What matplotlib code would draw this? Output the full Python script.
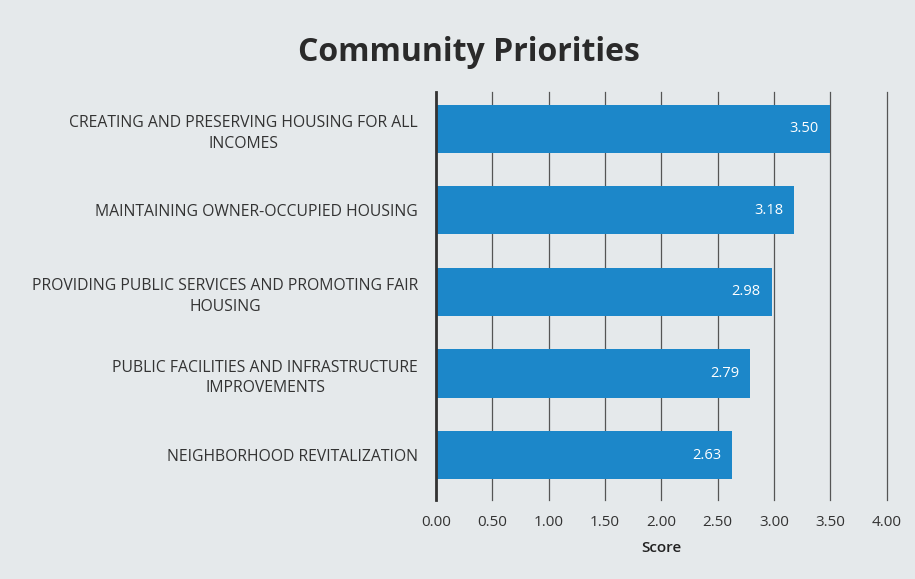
import numpy as np
import matplotlib
matplotlib.use('Agg')
import matplotlib.pyplot as plt

plt.rcParams['font.family'] = ['Open Sans', 'DejaVu Sans']

# Chart data, top to bottom as shown.
categories = [
    'CREATING AND PRESERVING HOUSING FOR ALL\nINCOMES',
    'MAINTAINING OWNER-OCCUPIED HOUSING',
    'PROVIDING PUBLIC SERVICES AND PROMOTING FAIR\nHOUSING',
    'PUBLIC FACILITIES AND INFRASTRUCTURE\nIMPROVEMENTS',
    'NEIGHBORHOOD REVITALIZATION',
]
scores = [3.50, 3.18, 2.98, 2.79, 2.63]
x_ticks = [0.0, 0.5, 1.0, 1.5, 2.0, 2.5, 3.0, 3.5, 4.0]

bg = '#e5e9eb'
bar_color = '#1c87c9'

fig = plt.figure(figsize=(9.15, 5.79), dpi=100, facecolor=bg)
ax = fig.add_axes([0.4765, 0.1364, 0.4925, 0.7046])
ax.set_facecolor('none')

y = np.arange(len(categories))
ax.barh(y, scores, height=0.59, color=bar_color, zorder=3)

# Value labels inside the bar ends.
for yi, s in zip(y, scores):
    ax.text(s - 0.1, yi, '{:.2f}'.format(s), color='white', fontsize=10.5,
            ha='right', va='center', zorder=4)

ax.set_xlim(0, 4.0)
ax.set_ylim(4.55, -0.45)
ax.set_xticks(x_ticks)
ax.set_xticklabels(['{:.2f}'.format(t) for t in x_ticks], fontsize=11, color='#333333')
ax.set_yticks(y)
ax.set_yticklabels(categories, fontsize=11.3, color='#333333')
for lab in ax.get_yticklabels():
    lab.set_multialignment('center')
    lab.set_linespacing(1.4)
ax.tick_params(axis='both', length=0)
ax.tick_params(axis='y', pad=13)
ax.tick_params(axis='x', pad=11)

ax.grid(axis='x', color='#555555', linewidth=0.9, zorder=0)
for gl in ax.get_xgridlines():
    gl.set_clip_on(False)
for side in ['top', 'right', 'bottom']:
    ax.spines[side].set_visible(False)
ax.spines['left'].set_color('#333333')
ax.spines['left'].set_linewidth(2)
ax.spines['left'].set_zorder(5)

ax.set_xlabel('Score', fontsize=11, fontweight='semibold', color='#222222', labelpad=8)

fig.text(0.513, 0.91, 'Community Priorities', fontsize=23, fontweight='bold',
         color='#2a2a2a', ha='center', va='center')

fig.savefig('out.png', dpi=100, facecolor=bg)
